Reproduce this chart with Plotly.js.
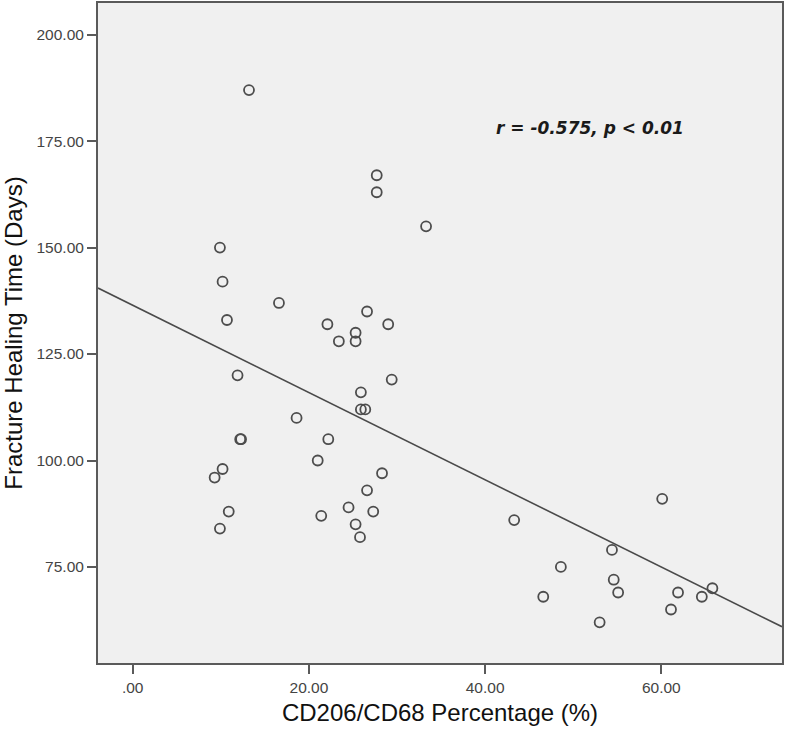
<!DOCTYPE html>
<html>
<head>
<meta charset="utf-8">
<script src="https://cdn.plot.ly/plotly-3.0.1.min.js"></script>
<style>html,body{margin:0;padding:0;background:#fff;}#chart{width:787px;height:736px;}</style>
</head>
<body>
<div id="chart"></div>
<script>
// CD206/CD68 percentage (%)
const cd206Pct = [13.2, 27.7, 27.7, 33.3, 9.9, 10.2, 10.7, 16.6, 11.9, 22.1, 23.4, 25.3, 25.3, 26.6, 29.0,
  25.9, 29.4, 25.9, 26.4, 18.6, 12.2, 12.3, 22.2, 21.0, 10.2, 9.3, 28.3, 26.6, 24.5, 27.3, 21.4,
  10.9, 9.9, 25.3, 25.8, 43.3, 60.1, 54.4, 48.6, 46.6, 54.6, 55.1, 53.0, 61.9, 61.1, 64.6, 65.8];
// Fracture healing time (days)
const healingDays = [187, 167, 163, 155, 150, 142, 133, 137, 120, 132, 128, 130, 128, 135, 132,
  116, 119, 112, 112, 110, 105, 105, 105, 100, 98, 96, 97, 93, 89, 88, 87,
  88, 84, 85, 82, 86, 91, 79, 75, 68, 72, 69, 62, 69, 65, 68, 70];
const xTickVals = [0, 20, 40, 60];
const xTickText = [".00", "20.00", "40.00", "60.00"];
const yTickVals = [75, 100, 125, 150, 175, 200];
const yTickText = ["75.00", "100.00", "125.00", "150.00", "175.00", "200.00"];
const xRange = [-3.94, 73.7];
const yRange = [52.44, 207.45];
const statText = "r = -0.575, p < 0.01";

// least-squares fit line
const n = cd206Pct.length;
const mx = cd206Pct.reduce((a, b) => a + b, 0) / n;
const my = healingDays.reduce((a, b) => a + b, 0) / n;
let sxy = 0, sxx = 0;
for (let i = 0; i < n; i++) { sxy += (cd206Pct[i] - mx) * (healingDays[i] - my); sxx += (cd206Pct[i] - mx) ** 2; }
const slope = sxy / sxx;
const intercept = my - slope * mx;
const fitX = xRange.slice();
const fitY = fitX.map(v => intercept + slope * v);

const data = [
  {x: fitX, y: fitY, type: 'scatter', mode: 'lines', line: {color: '#4a4a4a', width: 1.6}, hoverinfo: 'skip'},
  {x: cd206Pct, y: healingDays, type: 'scatter', mode: 'markers',
   marker: {symbol: 'circle-open', size: 10, color: '#4d4d4d', line: {width: 1.8, color: '#4d4d4d'}}}
];

const layout = {
  width: 787, height: 736,
  margin: {l: 98, r: 5, t: 3, b: 73},
  paper_bgcolor: '#ffffff',
  plot_bgcolor: '#f0f0f0',
  showlegend: false,
  font: {family: 'Liberation Sans, Arial, sans-serif'},
  xaxis: {
    range: xRange, tickvals: xTickVals, ticktext: xTickText,
    showgrid: false, zeroline: false,
    showline: true, linecolor: '#5a5a5a', linewidth: 2, mirror: true,
    ticks: 'outside', ticklen: 9, tickwidth: 2, tickcolor: '#5a5a5a',
    tickfont: {size: 15.5, color: '#444'},
    title: {text: 'CD206/CD68 Percentage (%)', font: {size: 24, color: '#111', family: 'Liberation Sans, Arial, sans-serif'}, standoff: 10}
  },
  yaxis: {
    range: yRange, tickvals: yTickVals, ticktext: yTickText,
    showgrid: false, zeroline: false,
    showline: true, linecolor: '#5a5a5a', linewidth: 2, mirror: true,
    ticks: 'outside', ticklen: 9, tickwidth: 2, tickcolor: '#5a5a5a',
    tickfont: {size: 15.5, color: '#444'},
    title: {text: 'Fracture Healing Time (Days)', font: {size: 24, color: '#111', family: 'Liberation Sans, Arial, sans-serif'}, standoff: 10}
  },
  annotations: [{
    x: 0.7186, y: 0.8106, xref: 'paper', yref: 'paper', showarrow: false,
    xanchor: 'center', yanchor: 'middle',
    text: '<b><i>' + statText + '</i></b>',
    font: {size: 17, color: '#1a1a1a', family: 'DejaVu Sans, sans-serif'}
  }]
};

Plotly.newPlot('chart', data, layout, {displayModeBar: false, staticPlot: true});
</script>
</body>
</html>
